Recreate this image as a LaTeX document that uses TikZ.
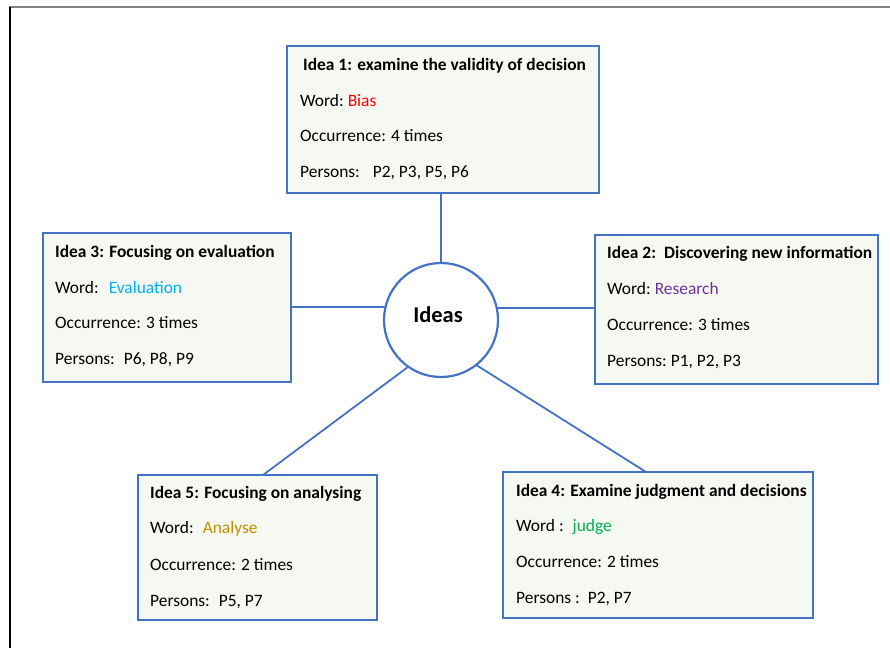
\documentclass[tikz,border=0pt]{standalone}
\usepackage{fontspec}
\setmainfont{Carlito}
\usetikzlibrary{calc}
\definecolor{linkblue}{HTML}{4472C4}
\definecolor{boxfill}{RGB}{246,248,242}
\definecolor{wordred}{HTML}{FF0000}
\definecolor{wordcyan}{HTML}{00B0F0}
\definecolor{wordpurple}{HTML}{7030A0}
\definecolor{wordgold}{HTML}{BF9000}
\definecolor{wordgreen}{HTML}{00B050}
\definecolor{framegray}{HTML}{808080}
\tikzset{
  ideabox/.style={draw=linkblue, line width=1.8pt, fill=boxfill, rectangle,
    inner sep=0pt, outer sep=0pt},
  hub/.style={draw=linkblue, line width=2.2pt, fill=white, circle,
    minimum size=114pt, inner sep=0pt, outer sep=0pt},
  hubtext/.style={inner sep=0pt, font=\fontsize{22.5}{26}\selectfont\bfseries},
  spoke/.style={draw=linkblue, line width=1.8pt},
  txt/.style={anchor=base west, inner sep=0pt, font=\fontsize{17.4}{20}\selectfont},
  ttl/.style={txt, font=\fontsize{17.4}{20}\selectfont\bfseries},
}
\begin{document}
\begin{tikzpicture}[x=1pt,y=-1pt]
\useasboundingbox (0,0) rectangle (890,648);

% page frame (top and left edges)
\coordinate (fl) at (10,648);
\coordinate (ftl) at (10,7);
\coordinate (ftr) at (890,7);
\draw[framegray, line width=2pt] (9,7) -- (ftr);
\draw[black, line width=1.4pt] (ftl) -- (fl);

% boxes
\node[ideabox, minimum width=312pt, minimum height=147pt] (b1) at (443,119.5) {};
\node[ideabox, minimum width=248pt, minimum height=149pt] (b3) at (167,307.5) {};
\node[ideabox, minimum width=283pt, minimum height=149pt] (b2) at (736.5,309.5) {};
\node[ideabox, minimum width=239pt, minimum height=145pt] (b5) at (257.5,547.5) {};
\node[ideabox, minimum width=310pt, minimum height=146pt] (b4) at (658,545) {};

% central hub
\node[hub] (c) at (441,320) {};
\node[hubtext] (cl) at (438,315) {Ideas};

% spokes
\draw[spoke] (c.north) -- (c.north |- b1.south);
\draw[spoke] (c.167.8) -- (c.167.8 -| b3.east);
\draw[spoke] (c.12.2) -- (c.12.2 -| b2.west);
\draw[spoke] (c.235.5) -- ([xshift=5.5pt]b5.north);
\draw[spoke] (c.308.7) -- ([xshift=-12pt]b4.north);

% Idea 1
\node[ttl] (t1) at ($(b1.north west)+(16,24)$) {Idea 1: examine the validity of decision};
\node[txt] (w1) at ($(b1.north west)+(13,60)$) {Word:\hspace{4pt}\textcolor{wordred}{Bias}};
\node[txt] (o1) at ($(b1.north west)+(13,95.5)$) {Occurrence: 4 times};
\node[txt] (p1) at ($(b1.north west)+(13,131)$) {Persons:\hspace{13pt}P2, P3, P5, P6};

% Idea 3
\node[ttl] (t3) at ($(b3.north west)+(12,24)$) {Idea 3: Focusing on evaluation};
\node[txt] (w3) at ($(b3.north west)+(12,60)$) {Word:\hspace{10pt}\textcolor{wordcyan}{Evaluation}};
\node[txt] (o3) at ($(b3.north west)+(12,95.5)$) {Occurrence: 3 times};
\node[txt] (p3) at ($(b3.north west)+(12,131)$) {Persons:\hspace{9pt}P6, P8, P9};

% Idea 2
\node[ttl] (t2) at ($(b2.north west)+(12,23)$) {Idea 2:\hspace{8pt}Discovering new information};
\node[txt] (w2) at ($(b2.north west)+(12,59)$) {Word:\hspace{4pt}\textcolor{wordpurple}{Research}};
\node[txt] (o2) at ($(b2.north west)+(12,95)$) {Occurrence: 3 times};
\node[txt] (p2) at ($(b2.north west)+(12,131)$) {Persons:\hspace{4pt}P1, P2, P3};

% Idea 5
\node[ttl] (t5) at ($(b5.north west)+(12,23)$) {Idea 5: Focusing on analysing};
\node[txt] (w5) at ($(b5.north west)+(12,58)$) {Word:\hspace{9pt}\textcolor{wordgold}{Analyse}};
\node[txt] (o5) at ($(b5.north west)+(12,95)$) {Occurrence: 2 times};
\node[txt] (p5) at ($(b5.north west)+(12,131)$) {Persons:\hspace{9pt}P5, P7};

% Idea 4
\node[ttl] (t4) at ($(b4.north west)+(13,24)$) {Idea 4: Examine judgment and decisions};
\node[txt] (w4) at ($(b4.north west)+(13,59)$) {Word :\hspace{9pt}\textcolor{wordgreen}{judge}};
\node[txt] (o4) at ($(b4.north west)+(13,95)$) {Occurrence: 2 times};
\node[txt] (p4) at ($(b4.north west)+(13,131)$) {Persons :\hspace{8pt}P2, P7};
\end{tikzpicture}
\end{document}
